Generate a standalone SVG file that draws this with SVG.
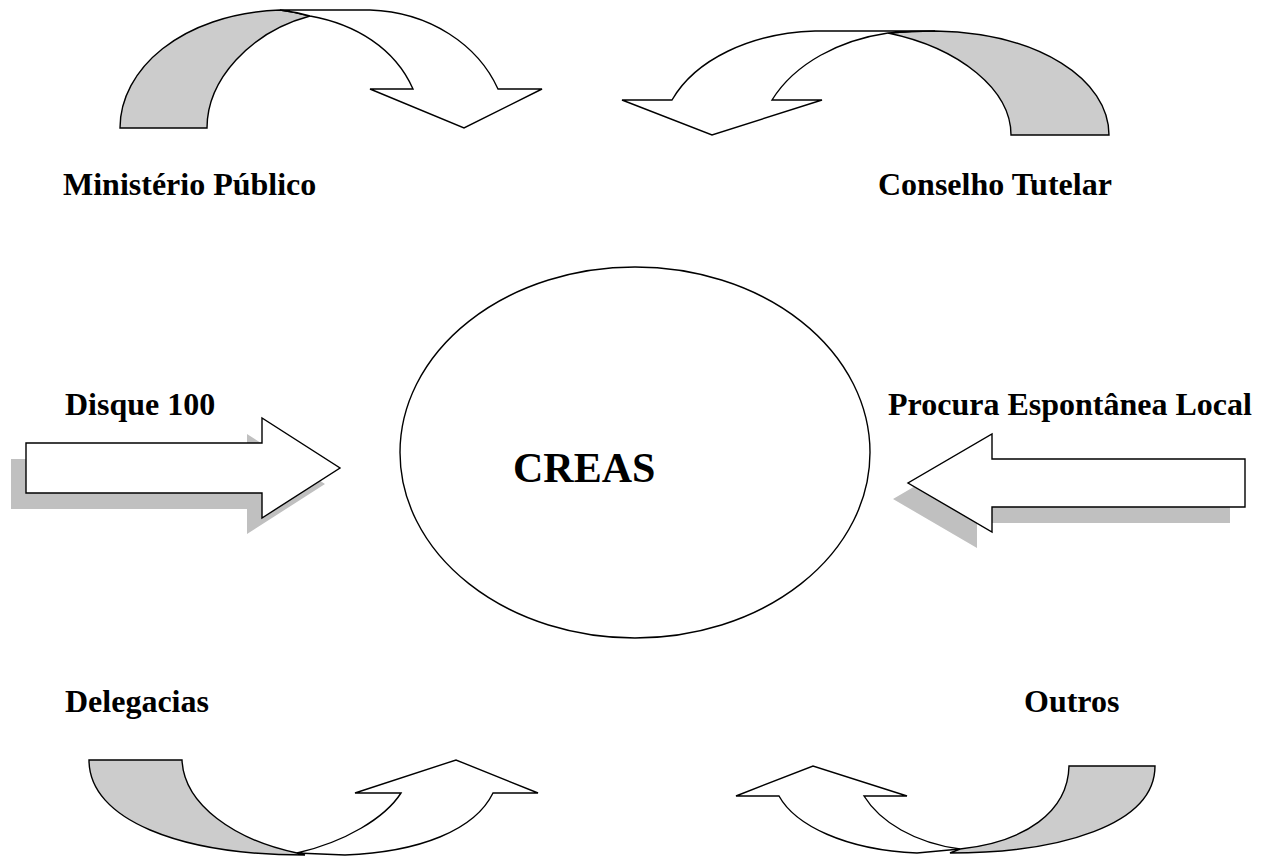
<svg xmlns="http://www.w3.org/2000/svg" width="1263" height="857" viewBox="0 0 1263 857">
<style>
.lbl{font-family:"Liberation Serif","Times New Roman",serif;font-weight:bold;font-size:32px;fill:#000}
.big{font-family:"Liberation Serif","Times New Roman",serif;font-weight:bold;font-size:42px;fill:#000}
.ln{stroke:#000;stroke-width:1.4;stroke-linejoin:miter}
.back{fill:#cccccc}
.front{fill:#ffffff}
.shadow{fill:#c0c0c0;stroke:none}
</style>
<rect width="1263" height="857" fill="#ffffff"/>
<g id="connectors">
  <g id="arrow-ministerio">
    <path class="back ln" d="M120,128 C120,70 180,14 280,10 Q296,12 310,16 C250,32 207,80 207,128 Z"/>
    <path class="front ln" d="M280,10 L370,10 C430,12 478,45 498,89 L542,89 L464,128 L370,89 L413,89 C395,48 355,24 310,16 Q296,12 280,10 Z"/>
  </g>
  <g id="arrow-conselho">
    <path class="back ln" d="M935,31 C1040,33 1109,80 1109,135 L1011,135 C1011,90 960,48 888,33 Q912,31 935,31 Z"/>
    <path class="front ln" d="M935,31 L815,31 C750,33 695,60 672,100 L622,100 L712,135 L822,100 L772,100 C795,63 840,40 888,33 Q912,31 935,31 Z"/>
  </g>
  <g id="arrow-delegacias">
    <path class="back ln" d="M89,760 L182,760 C184,805 235,840 297,853 L305,855 C180,855 89,820 89,760 Z"/>
    <path class="front ln" d="M297,853 L345,855 C420,852 475,830 493,793 L538,793 L456,760 L355,793 L401,793 C385,818 345,842 297,853 Z"/>
  </g>
  <g id="arrow-outros">
    <path class="back ln" d="M1155,766 L1069,766 C1068,812 1025,842 960,849 L950,853 C1060,853 1155,825 1155,766 Z"/>
    <path class="front ln" d="M960,849 L917,853 C845,850 795,825 779,796 L736,796 L813,766 L907,796 L864,796 C880,822 915,843 960,849 Z"/>
  </g>
  <g id="arrow-disque">
    <path class="shadow" d="M11,459 L247,459 L247,434 L325,484 L247,534 L247,509 L11,509 Z"/>
    <path class="front ln" d="M26,443 L262,443 L262,418 L340,468 L262,518 L262,493 L26,493 Z"/>
  </g>
  <g id="arrow-procura">
    <path class="shadow" d="M1230,475 L977,475 L977,450 L893,499 L977,548 L977,523 L1230,523 Z"/>
    <path class="front ln" d="M1245,459 L992,459 L992,434 L908,483 L992,532 L992,507 L1245,507 Z"/>
  </g>
</g>
<g id="creas">
  <ellipse cx="635" cy="452.5" rx="235" ry="185.5" fill="#ffffff" stroke="#000" stroke-width="1.4"/>
  <text class="big" x="513" y="482">CREAS</text>
</g>
<g id="ministerio"><text class="lbl" x="63" y="195">Ministério Público</text></g>
<g id="conselho"><text class="lbl" x="878" y="195">Conselho Tutelar</text></g>
<g id="disque"><text class="lbl" x="65" y="415">Disque 100</text></g>
<g id="procura"><text class="lbl" x="888" y="415">Procura Espontânea Local</text></g>
<g id="delegacias"><text class="lbl" x="65" y="712">Delegacias</text></g>
<g id="outros"><text class="lbl" x="1024" y="712">Outros</text></g>
</svg>
